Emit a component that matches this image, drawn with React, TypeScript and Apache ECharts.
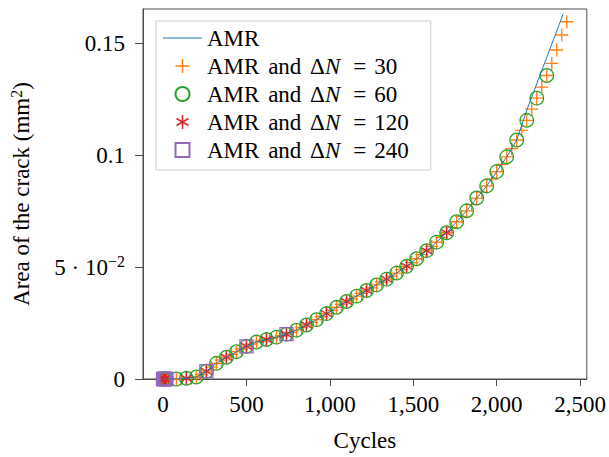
import React, { useEffect, useRef } from 'react';
import * as echarts from 'echarts';

// ---------- data ----------
const clusterCycles = [0, 4, 8, 12, 16];
const clusterArea = [0, 0, 0, 0, 0];

const cyclesAMR = [0, 20, 80, 140, 200, 260, 320, 380, 440, 500, 560, 620, 680, 740, 800, 860, 920, 980, 1040, 1100, 1160, 1220, 1280, 1340, 1400, 1460, 1520, 1580, 1640, 1700, 1760, 1820, 1880, 1940, 2000, 2060, 2120, 2180, 2240, 2300, 2360, 2398];
const areaAMR = [0, 0, 0, 0.0003, 0.0009, 0.0035, 0.007, 0.0097, 0.0122, 0.0146, 0.0165, 0.0176, 0.0187, 0.02, 0.0218, 0.0241, 0.0265, 0.0292, 0.032, 0.0346, 0.037, 0.0395, 0.042, 0.0446, 0.0473, 0.0503, 0.0537, 0.0573, 0.0611, 0.0653, 0.0702, 0.0751, 0.0808, 0.0862, 0.0926, 0.0992, 0.1067, 0.12, 0.1318, 0.1436, 0.1554, 0.163];

const cycles30 = [20, 50, 80, 110, 140, 170, 200, 230, 260, 290, 320, 350, 380, 410, 440, 470, 500, 530, 560, 590, 620, 650, 680, 710, 740, 770, 800, 830, 860, 890, 920, 950, 980, 1010, 1040, 1070, 1100, 1130, 1160, 1190, 1220, 1250, 1280, 1310, 1340, 1370, 1400, 1430, 1460, 1490, 1520, 1550, 1580, 1610, 1640, 1670, 1700, 1730, 1760, 1790, 1820, 1850, 1880, 1910, 1940, 1970, 2000, 2030, 2060, 2090, 2120, 2150, 2180, 2210, 2240, 2270, 2300, 2330, 2360, 2390, 2420];
const area30 = [0, 0, 0, 0.0001, 0.0003, 0.0005, 0.0009, 0.002, 0.0035, 0.0053, 0.007, 0.0084, 0.0097, 0.011, 0.0122, 0.0134, 0.0146, 0.0156, 0.0165, 0.0171, 0.0176, 0.0181, 0.0187, 0.0193, 0.02, 0.0208, 0.0218, 0.0229, 0.0241, 0.0253, 0.0265, 0.0278, 0.0292, 0.0306, 0.032, 0.0333, 0.0346, 0.0358, 0.037, 0.0382, 0.0395, 0.0407, 0.042, 0.0433, 0.0446, 0.0459, 0.0473, 0.0488, 0.0503, 0.052, 0.0537, 0.0555, 0.0573, 0.0592, 0.0611, 0.0632, 0.0653, 0.0677, 0.0702, 0.0726, 0.0751, 0.0779, 0.0808, 0.0834, 0.0862, 0.0893, 0.0926, 0.0958, 0.0992, 0.1029, 0.1067, 0.111, 0.1155, 0.1205, 0.1254, 0.1303, 0.1355, 0.1409, 0.1469, 0.1536, 0.1595];

const cycles60 = [20, 80, 140, 200, 260, 320, 380, 440, 500, 560, 620, 680, 740, 800, 860, 920, 980, 1040, 1100, 1160, 1220, 1280, 1340, 1400, 1460, 1520, 1580, 1640, 1700, 1760, 1820, 1880, 1940, 2000, 2060, 2120, 2180, 2240, 2300];
const area60 = [0, 0, 0.0003, 0.0009, 0.0035, 0.007, 0.0097, 0.0122, 0.0146, 0.0165, 0.0176, 0.0187, 0.02, 0.0218, 0.0241, 0.0265, 0.0292, 0.032, 0.0346, 0.037, 0.0395, 0.042, 0.0446, 0.0473, 0.0503, 0.0537, 0.0573, 0.0611, 0.0653, 0.0702, 0.0751, 0.0808, 0.0862, 0.0926, 0.0992, 0.1067, 0.1155, 0.1254, 0.1355];

const cycles120 = [20, 140, 260, 380, 500, 620, 740, 860, 980, 1100, 1220, 1340, 1460, 1580, 1700];
const area120 = [0, 0.0003, 0.0035, 0.0097, 0.0146, 0.0176, 0.02, 0.0241, 0.0292, 0.0346, 0.0395, 0.0446, 0.0503, 0.0573, 0.0653];

const cycles240 = [20, 260, 500, 740];
const area240 = [0, 0.0035, 0.0146, 0.02];

const xTicks = [0, 500, 1000, 1500, 2000, 2500];
const yTicks = [0, 0.05, 0.1, 0.15];

const seriesNames = ['AMR', 'AMR and ΔN = 30', 'AMR and ΔN = 60', 'AMR and ΔN = 120', 'AMR and ΔN = 240'];

// ---------- styling helpers ----------
const FONT = '"Liberation Serif", "Times New Roman", serif';
const FS = 23;

function bar(angleDeg: number, w: number): string {
  const t = (angleDeg * Math.PI) / 180;
  const dx = Math.cos(t) * 50, dy = Math.sin(t) * 50;
  const nx = -Math.sin(t) * w, ny = Math.cos(t) * w;
  const pts = [
    [50 + dx + nx, 50 + dy + ny],
    [50 + dx - nx, 50 + dy - ny],
    [50 - dx - nx, 50 - dy - ny],
    [50 - dx + nx, 50 - dy + ny],
  ];
  return 'M' + pts.map((p) => p[0].toFixed(2) + ',' + p[1].toFixed(2)).join('L') + 'Z';
}
const plusPath = 'path://' + bar(0, 5) + bar(90, 5);
const asteriskPath = 'path://' + bar(90, 5.5) + bar(30, 5.5) + bar(150, 5.5);
const squarePath = 'path://M0,0H100V100H0Z';
const lineIcon = 'path://M0,0H100V2.6H0Z';

function zip(xs: number[], ys: number[]): number[][] {
  return xs.map((x, i) => [x, ys[i]]);
}
function withCluster(xs: number[], ys: number[]): number[][] {
  return zip(clusterCycles, clusterArea).concat(zip(xs, ys));
}

const fmtThousands = (v: number) => String(Math.round(v)).replace(/\B(?=(\d{3})+(?!\d))/g, ',');

export default function App() {
  const ref = useRef<HTMLDivElement>(null);
  useEffect(() => {
    if (!ref.current) return;
    const chart = echarts.init(ref.current, undefined, { renderer: 'svg' });
    const axisColor = '#4a4a4a';
    const richBase = { fontFamily: FONT, fontSize: FS, color: '#000' };
    chart.setOption({
      animation: false,
      backgroundColor: '#fff',
      textStyle: { fontFamily: FONT, color: '#000' },
      grid: { left: 142, right: 22, top: 9, bottom: 78, show: true, borderColor: axisColor, borderWidth: 1 },
      xAxis: {
        type: 'value',
        min: -120,
        max: 2540,
        name: 'Cycles',
        nameLocation: 'middle',
        nameGap: 50,
        nameTextStyle: { fontFamily: FONT, fontSize: FS, color: '#000' },
        axisLine: { show: true, onZero: false, lineStyle: { color: axisColor, width: 1 } },
        axisTick: { show: true, length: 7, lineStyle: { color: axisColor }, customValues: xTicks },
        axisLabel: { customValues: xTicks, fontFamily: FONT, fontSize: FS, color: '#000', margin: 14, formatter: (v: number) => fmtThousands(v) },
        splitLine: { show: false },
      },
      yAxis: {
        type: 'value',
        min: 0,
        max: 0.1652,
        name: '{t|Area of the crack (mm}{s|2}{t|)}',
        nameLocation: 'middle',
        nameGap: 108,
        nameTextStyle: {
          fontFamily: FONT,
          color: '#000',
          rich: {
            t: { ...richBase },
            s: { ...richBase, fontSize: 16, padding: [0, 0, 11, 0] },
          },
        },
        axisLine: { show: true, onZero: false, lineStyle: { color: axisColor, width: 1 } },
        axisTick: { show: true, length: 8, lineStyle: { color: axisColor }, customValues: yTicks },
        axisLabel: {
          customValues: yTicks,
          fontFamily: FONT,
          fontSize: FS,
          color: '#000',
          margin: 18,
          formatter: (v: number) => {
            if (Math.abs(v) < 1e-9) return '{b|0}';
            if (Math.abs(v - 0.05) < 1e-9) return '{b|5 · 10}{s|−2}';
            if (Math.abs(v - 0.1) < 1e-9) return '{b|0.1}';
            return '{b|0.15}';
          },
          rich: {
            b: { ...richBase },
            s: { ...richBase, fontSize: 16, padding: [0, 0, 11, 0] },
          },
        },
        splitLine: { show: false },
      },
      legend: {
        orient: 'vertical',
        left: 156,
        top: 21,
        padding: [3, 22, 6, 7],
        itemGap: 0,
        itemWidth: 39,
        itemHeight: 14,
        borderColor: '#cccccc',
        borderWidth: 1,
        backgroundColor: '#fff',
        data: [
          { name: seriesNames[0], icon: lineIcon },
          { name: seriesNames[1] },
          { name: seriesNames[2] },
          { name: seriesNames[3] },
          { name: seriesNames[4] },
        ],
        textStyle: {
          fontFamily: FONT,
          fontSize: FS,
          color: '#000',
          lineHeight: 28,
          rich: {
            t: { ...richBase, lineHeight: 28 },
            w: { ...richBase, lineHeight: 28, padding: [0, 3, 0, 3] },
            i: { ...richBase, fontStyle: 'italic', lineHeight: 28, padding: [0, 5, 0, 0] },
            e: { ...richBase, lineHeight: 28, padding: [0, 8, 0, 8] },
          },
        },
        formatter: (name: string) => {
          const m = name.match(/^AMR and ΔN = (\d+)$/);
          if (!m) return '{t|' + name + '}';
          return '{t|AMR }{w|and }{t|Δ}{i|N}{e|=}{t|' + m[1] + '}';
        },
      },
      series: [
        {
          name: seriesNames[0],
          type: 'line',
          data: zip(cyclesAMR, areaAMR),
          showSymbol: false,
          symbol: 'none',
          smooth: false,
          lineStyle: { color: '#1f77b4', width: 1 },
          itemStyle: { color: '#1f77b4' },
        },
        {
          name: seriesNames[1],
          type: 'scatter',
          data: withCluster(cycles30, area30),
          symbol: plusPath,
          symbolSize: 13,
          symbolKeepAspect: true,
          itemStyle: { color: '#ff7f0e', opacity: 1 },
        },
        {
          name: seriesNames[2],
          type: 'scatter',
          data: withCluster(cycles60, area60),
          symbol: 'circle',
          symbolSize: 13.5,
          itemStyle: { color: 'rgba(0,0,0,0)', borderColor: '#2ca02c', borderWidth: 1.3, opacity: 1 },
        },
        {
          name: seriesNames[3],
          type: 'scatter',
          data: withCluster(cycles120, area120),
          symbol: asteriskPath,
          symbolSize: 12.5,
          symbolKeepAspect: true,
          itemStyle: { color: '#d62728', opacity: 1 },
        },
        {
          name: seriesNames[4],
          type: 'scatter',
          data: withCluster(cycles240, area240),
          symbol: squarePath,
          symbolSize: 13,
          symbolKeepAspect: true,
          itemStyle: { color: 'rgba(0,0,0,0)', borderColor: '#9467bd', borderWidth: 1.3, opacity: 1 },
        },
      ],
    });
    return () => chart.dispose();
  }, []);
  return <div ref={ref} style={{ width: 609, height: 457, position: 'absolute', left: 0, top: 0 }} />;
}
